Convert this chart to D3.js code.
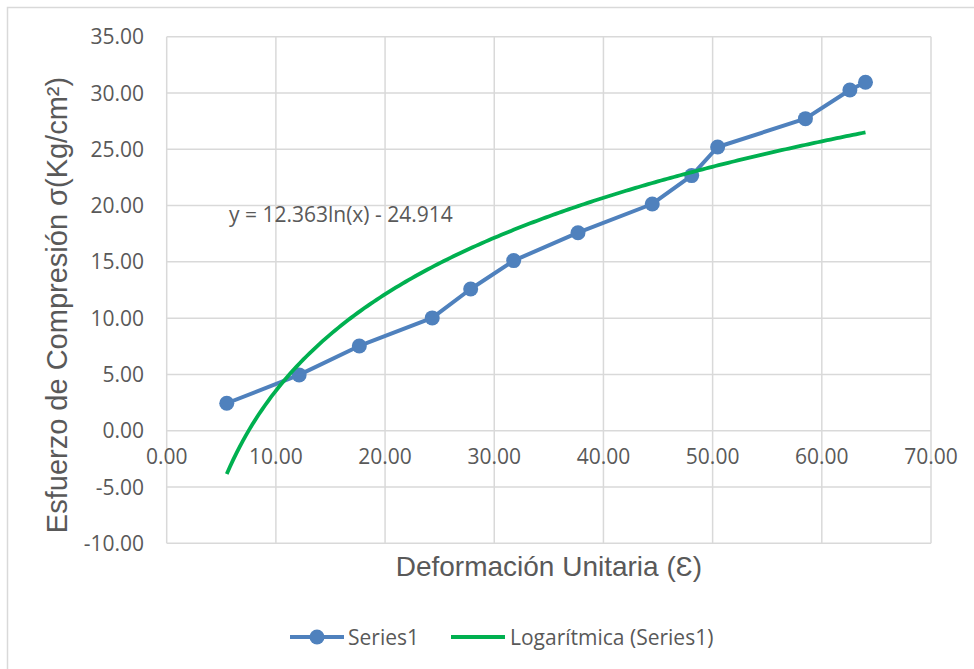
<!DOCTYPE html>
<html>
<head>
<meta charset="utf-8">
<script src="https://cdn.jsdelivr.net/npm/d3@7"></script>
<style>
  html, body { margin: 0; padding: 0; background: #fff; }
  svg { display: block; }
</style>
</head>
<body>
<svg id="chart" width="974" height="669"></svg>
<script>
// Stress–strain readings
const strain = [5.5, 12.13, 17.64, 24.32, 27.84, 31.78, 37.67, 44.47, 48.08, 50.46, 58.5, 62.57, 64.0];
const stress = [2.44, 4.96, 7.53, 10.02, 12.59, 15.11, 17.59, 20.14, 22.66, 25.2, 27.72, 30.27, 30.95];

// Logarithmic trendline coefficients: y = a ln(x) + b
const trendA = 12.363;
const trendB = -24.914;

const xTicks = [0, 10, 20, 30, 40, 50, 60, 70];
const yTicks = [-10, -5, 0, 5, 10, 15, 20, 25, 30, 35];

const seriesName = "Series1";
const trendName = "Logarítmica (Series1)";
const equationText = "y = 12.363ln(x) - 24.914";
const xTitle = "Deformación Unitaria (Ɛ)";
const yTitle = "Esfuerzo de Compresión σ(Kg/cm²)";

const blue = "#4f81bd";
const green = "#00b050";
const grid = "#d9d9d9";
const textCol = "#595959";
const tickFont = "'Open Sans', sans-serif";
const titleFont = "'Liberation Sans', Arial, sans-serif";

// two decimals, plain hyphen for negatives
const fmt = v => d3.format(".2f")(v).replace("\u2212", "-");

const svg = d3.select("#chart");

// outer chart frame (only left and top edges fall inside the view)
svg.append("rect")
  .attr("x", 7.5).attr("y", 7.5)
  .attr("width", 1000).attr("height", 1000)
  .attr("fill", "#fff")
  .attr("stroke", grid).attr("stroke-width", 1.5);

const plot = { left: 166.7, right: 931, top: 36.7, bottom: 543.3 };

const x = d3.scaleLinear().domain([0, 70]).range([plot.left, plot.right]);
const y = d3.scaleLinear().domain([-10, 35]).range([plot.bottom, plot.top]);

// gridlines
const g = svg.append("g");
g.selectAll("line.vx").data(xTicks).join("line")
  .attr("x1", d => x(d)).attr("x2", d => x(d))
  .attr("y1", plot.top).attr("y2", plot.bottom)
  .attr("stroke", grid).attr("stroke-width", 1.5);
g.selectAll("line.hy").data(yTicks).join("line")
  .attr("x1", plot.left).attr("x2", plot.right)
  .attr("y1", d => y(d)).attr("y2", d => y(d))
  .attr("stroke", grid).attr("stroke-width", 1.5);

// y tick labels
svg.append("g").selectAll("text").data(yTicks).join("text")
  .attr("x", 144).attr("y", d => y(d))
  .attr("dy", "0.36em")
  .attr("text-anchor", "end")
  .attr("font-family", tickFont).attr("font-size", 21)
  .attr("fill", textCol)
  .text(fmt);

// x tick labels, sitting under the zero line
svg.append("g").selectAll("text").data(xTicks).join("text")
  .attr("x", d => x(d)).attr("y", y(0) + 33)
  .attr("text-anchor", "middle")
  .attr("font-family", tickFont).attr("font-size", 21)
  .attr("fill", textCol)
  .text(fmt);

// trendline drawn from the fitted equation across the data range
const xMin = d3.min(strain), xMax = d3.max(strain);
const trendPts = d3.range(0, 201).map(i => {
  const xv = xMin + (xMax - xMin) * i / 200;
  return [xv, trendA * Math.log(xv) + trendB];
});
const line = d3.line().x(d => x(d[0])).y(d => y(d[1]));

// data series
const pts = strain.map((d, i) => [d, stress[i]]);
svg.append("path").datum(pts)
  .attr("d", line)
  .attr("fill", "none").attr("stroke", blue).attr("stroke-width", 4)
  .attr("stroke-linejoin", "round");
svg.append("g").selectAll("circle").data(pts).join("circle")
  .attr("cx", d => x(d[0])).attr("cy", d => y(d[1]))
  .attr("r", 7.5).attr("fill", blue);

svg.append("path").datum(trendPts)
  .attr("d", line)
  .attr("fill", "none").attr("stroke", green).attr("stroke-width", 3.8)
  .attr("stroke-linecap", "butt");

// equation label
svg.append("text")
  .attr("x", 229).attr("y", 222)
  .attr("font-family", tickFont).attr("font-size", 21)
  .attr("fill", textCol)
  .text(equationText);

// axis titles
svg.append("text")
  .attr("x", (plot.left + plot.right) / 2).attr("y", 576)
  .attr("text-anchor", "middle")
  .attr("font-family", titleFont).attr("font-size", 28)
  .attr("fill", textCol)
  .text(xTitle);

svg.append("text")
  .attr("transform", "translate(67, 305) rotate(-90)")
  .attr("text-anchor", "middle")
  .attr("font-family", titleFont).attr("font-size", 29)
  .attr("fill", textCol)
  .text(yTitle);

// legend
const leg = svg.append("g");
const ly = 637;
leg.append("line").attr("x1", 290).attr("x2", 344).attr("y1", ly).attr("y2", ly)
  .attr("stroke", blue).attr("stroke-width", 4);
leg.append("circle").attr("cx", 317).attr("cy", ly).attr("r", 7.5).attr("fill", blue);
leg.append("text").attr("x", 348).attr("y", ly).attr("dy", "0.36em")
  .attr("font-family", tickFont).attr("font-size", 21).attr("fill", textCol)
  .text(seriesName);
leg.append("line").attr("x1", 451).attr("x2", 505).attr("y1", ly).attr("y2", ly)
  .attr("stroke", green).attr("stroke-width", 3.8);
leg.append("text").attr("x", 510).attr("y", ly).attr("dy", "0.36em")
  .attr("font-family", tickFont).attr("font-size", 21).attr("fill", textCol)
  .text(trendName);
</script>
</body>
</html>
